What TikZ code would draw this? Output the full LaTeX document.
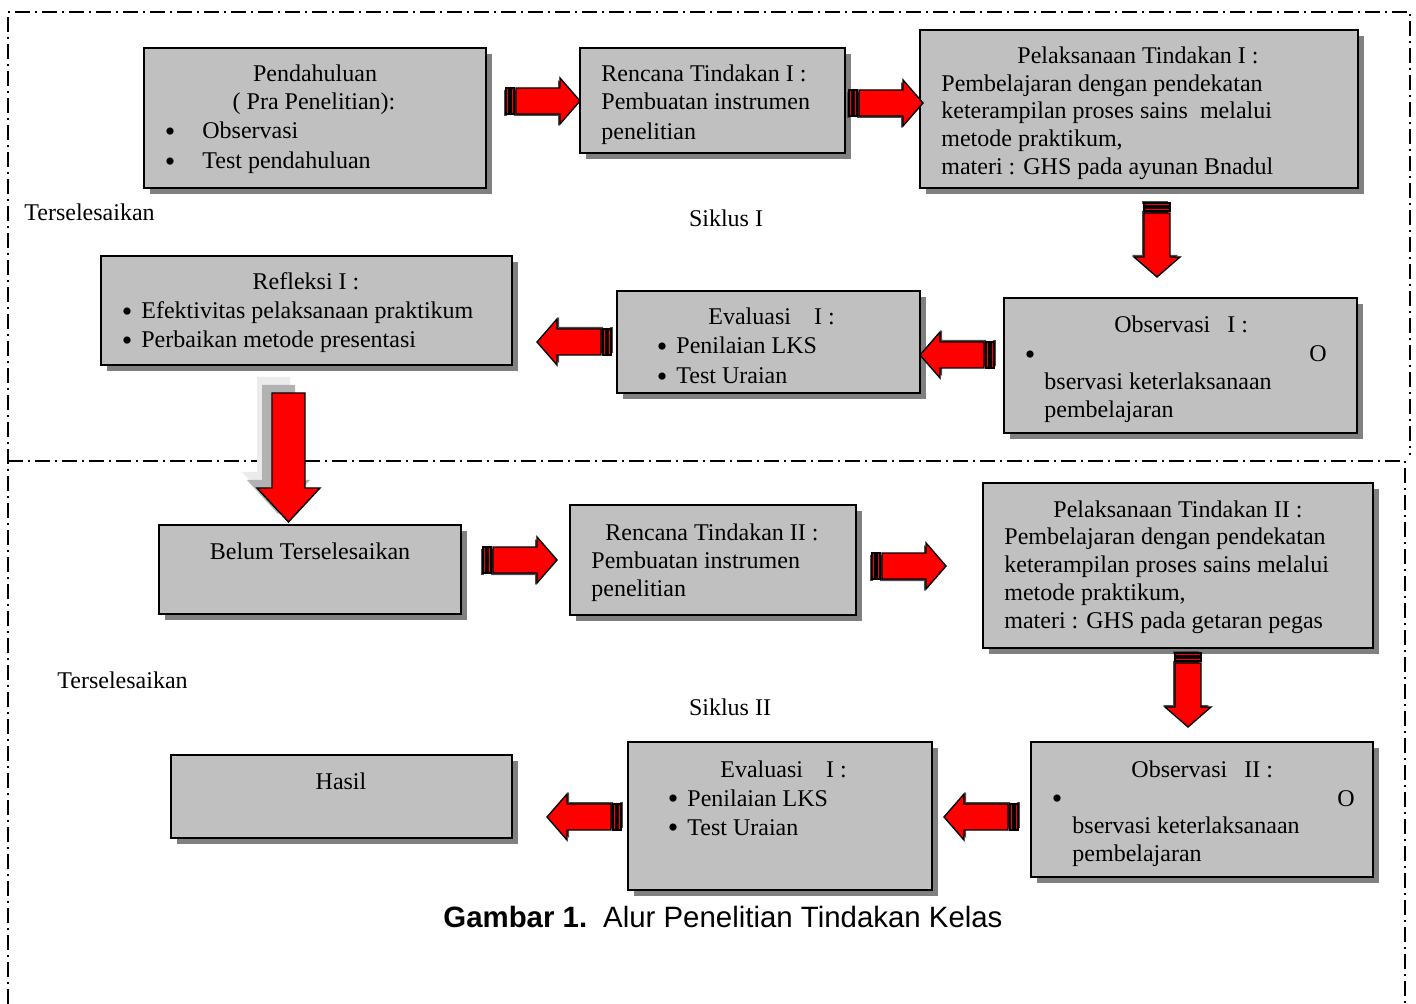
\documentclass[tikz,border=0pt]{standalone}
\usepackage{fontspec}
\setmainfont{Liberation Serif}
\newfontfamily\capfont{Liberation Sans}
\usetikzlibrary{fit}
\definecolor{boxfill}{HTML}{C0C0C0}
\definecolor{boxshadow}{HTML}{808080}
\tikzset{
  box/.style={draw=black, line width=1pt, fill=boxfill, inner sep=0pt},
  t/.style={anchor=base west, inner sep=0pt, yshift=-1pt, font=\fontsize{12}{14}\selectfont},
  tc/.style={anchor=base, inner sep=0pt, yshift=-1pt, font=\fontsize{12}{14}\selectfont},
  bul/.style={anchor=base, inner sep=0pt, yshift=-2.2pt, font=\fontsize{15}{15}\selectfont},
  dd/.style={line width=0.8pt, dash pattern=on 7.5pt off 2.5pt on 1pt off 2.5pt},
  arr/.style={fill=red, draw=black, line width=0.7pt, line join=miter},
  rarrow/.pic={
    \fill[black!70] (-2,-11) rectangle (1,15);
    \fill[black!70] (8,15) -- (52,15) -- (52,25) -- (72,2) -- (52,-21) -- (52,-11) -- (8,-11) -- cycle;
    \filldraw[arr] (0,-13) rectangle (3,13);
    \filldraw[arr] (5,-13) rectangle (8,13);
    \filldraw[arr] (10,-13) -- (54,-13) -- (54,-23) -- (74,0) -- (54,23) -- (54,13) -- (10,13) -- cycle;
  }
}
\newcommand\shbox[5]{%
  \fill[boxshadow] (#2+6,#3+6) rectangle (#4+6,#5+6);
  \node[box, fit={(#2,#3)(#4,#5)}] (#1) {};
}
\begin{document}
\begin{tikzpicture}[x=0.5pt, y=-0.5pt]
\useasboundingbox (0,0) rectangle (1416,1004);

% frames
\draw[dd] (8,1004) -- (8,12) -- (1410,12) -- (1410,455);
\draw[dd] (8,461) -- (1405,461) -- (1405,1004);

% boxes
\shbox{b1}{144}{48}{486}{188}
\shbox{b2}{580}{48}{845}{153}
\shbox{b3}{920}{30}{1358}{188}
\shbox{b4}{101}{256}{512}{365}
\shbox{b5}{617}{291}{920}{393}
\shbox{b6}{1004}{298}{1357}{433}
\shbox{b7}{159}{525}{461}{614}
\shbox{b8}{570}{505}{856}{615}
\shbox{b9}{983}{483}{1373}{648}
\shbox{b10}{171}{755}{512}{838}
\shbox{b11}{628}{742}{932}{890}
\shbox{b12}{1031}{742}{1373}{877}

% box 1
\node[tc] (b1t1) at (315,80) {Pendahuluan};
\node[tc] (b1t2) at (314,108) {( Pra Penelitian):};
\node[bul] (b1d1) at (170,137) {\textbullet};
\node[t] (b1t3) at (202,137) {Observasi};
\node[bul] (b1d2) at (170,167) {\textbullet};
\node[t] (b1t4) at (202,167) {Test pendahuluan};

% box 2
\node[t] (b2t1) at (601,80) {Rencana Tindakan I :};
\node[t] (b2t2) at (601,108) {Pembuatan instrumen};
\node[t] (b2t3) at (601,138) {penelitian};

% box 3
\node[tc] (b3t1) at (1138,62) {Pelaksanaan Tindakan I :};
\node[t] (b3t2) at (941,90) {Pembelajaran dengan pendekatan};
\node[t] (b3t3) at (941,117) {keterampilan proses sains\ \ melalui};
\node[t] (b3t4) at (941,145) {metode praktikum,};
\node[t] (b3t5) at (941,173) {materi : GHS pada ayunan Bnadul};

% box 4
\node[tc] (b4t1) at (306,288) {Refleksi I :};
\node[bul] (b4d1) at (127,317) {\textbullet};
\node[t] (b4t2) at (141,317) {Efektivitas pelaksanaan praktikum};
\node[bul] (b4d2) at (127,346) {\textbullet};
\node[t] (b4t3) at (141,346) {Perbaikan metode presentasi};

% box 5
\node[t] (b5t1) at (708,323) {Evaluasi\hspace{11.5pt}I :};
\node[bul] (b5d1) at (662,352) {\textbullet};
\node[t] (b5t2) at (676,352) {Penilaian LKS};
\node[bul] (b5d2) at (662,382) {\textbullet};
\node[t] (b5t3) at (676,382) {Test Uraian};

% box 6
\node[t] (b6t1) at (1114,331) {Observasi\hspace{8.5pt}I :};
\node[bul] (b6d1) at (1030,360) {\textbullet};
\node[t] (b6t2) at (1309,360) {O};
\node[t] (b6t3) at (1044,388) {bservasi keterlaksanaan};
\node[t] (b6t4) at (1044,416) {pembelajaran};

% box 7
\node[tc] (b7t1) at (310,557) {Belum Terselesaikan};

% box 8
\node[tc] (b8t1) at (712,538) {Rencana Tindakan II :};
\node[t] (b8t2) at (591,566) {Pembuatan instrumen};
\node[t] (b8t3) at (591,594) {penelitian};

% box 9
\node[tc] (b9t1) at (1178,515) {Pelaksanaan Tindakan II :};
\node[t] (b9t2) at (1004,543) {Pembelajaran dengan pendekatan};
\node[t] (b9t3) at (1004,570) {keterampilan proses sains melalui};
\node[t] (b9t4) at (1004,598) {metode praktikum,};
\node[t] (b9t5) at (1004,626) {materi : GHS pada getaran pegas};

% box 10
\node[tc] (b10t1) at (341,787) {Hasil};

% box 11
\node[t] (b11t1) at (720,775) {Evaluasi\hspace{11.5pt}I :};
\node[bul] (b11d1) at (673,804) {\textbullet};
\node[t] (b11t2) at (687,804) {Penilaian LKS};
\node[bul] (b11d2) at (673,833) {\textbullet};
\node[t] (b11t3) at (687,833) {Test Uraian};

% box 12
\node[t] (b12t1) at (1131,775) {Observasi\hspace{8.5pt}II :};
\node[bul] (b12d1) at (1057,804) {\textbullet};
\node[t] (b12t2) at (1337,804) {O};
\node[t] (b12t3) at (1072,831) {bservasi keterlaksanaan};
\node[t] (b12t4) at (1072,859) {pembelajaran};

% free labels
\node[t] (ter1) at (24,219) {Terselesaikan};
\node[tc] (sik1) at (726,225) {Siklus I};
\node[t] (ter2) at (57,686) {Terselesaikan};
\node[tc] (sik2) at (730,713) {Siklus II};

% caption
\node[anchor=base west, inner sep=0pt, font=\capfont\fontsize{14.7}{17}\selectfont] (cap) at (443,927)
  {\textbf{Gambar 1.}\hspace{8pt}Alur Penelitian Tindakan Kelas};

% block arrows
\pic at (506,101) {rarrow};
\pic at (849,103) {rarrow};
\pic[rotate=-90] at (1157,203) {rarrow};
\pic[rotate=180] at (611,342) {rarrow};
\pic[rotate=180] at (994,355) {rarrow};
\pic at (483,560) {rarrow};
\pic at (872,566) {rarrow};
\pic[rotate=-90] at (1188,653) {rarrow};
\pic[rotate=180] at (621,817) {rarrow};
\pic[rotate=180] at (1018,817) {rarrow};

% big down arrow with ghost copies
\fill[black!8] (257,377) -- (290,377) -- (290,472) -- (305,472) -- (273,506) -- (242,472) -- (257,472) -- cycle;
\fill[black!30] (262,385) -- (295,385) -- (295,480) -- (310,480) -- (278,514) -- (247,480) -- (262,480) -- cycle;
\filldraw[arr] (272,393) -- (305,393) -- (305,488) -- (320,488) -- (288.5,522) -- (257,488) -- (272,488) -- cycle;
\end{tikzpicture}
\end{document}
